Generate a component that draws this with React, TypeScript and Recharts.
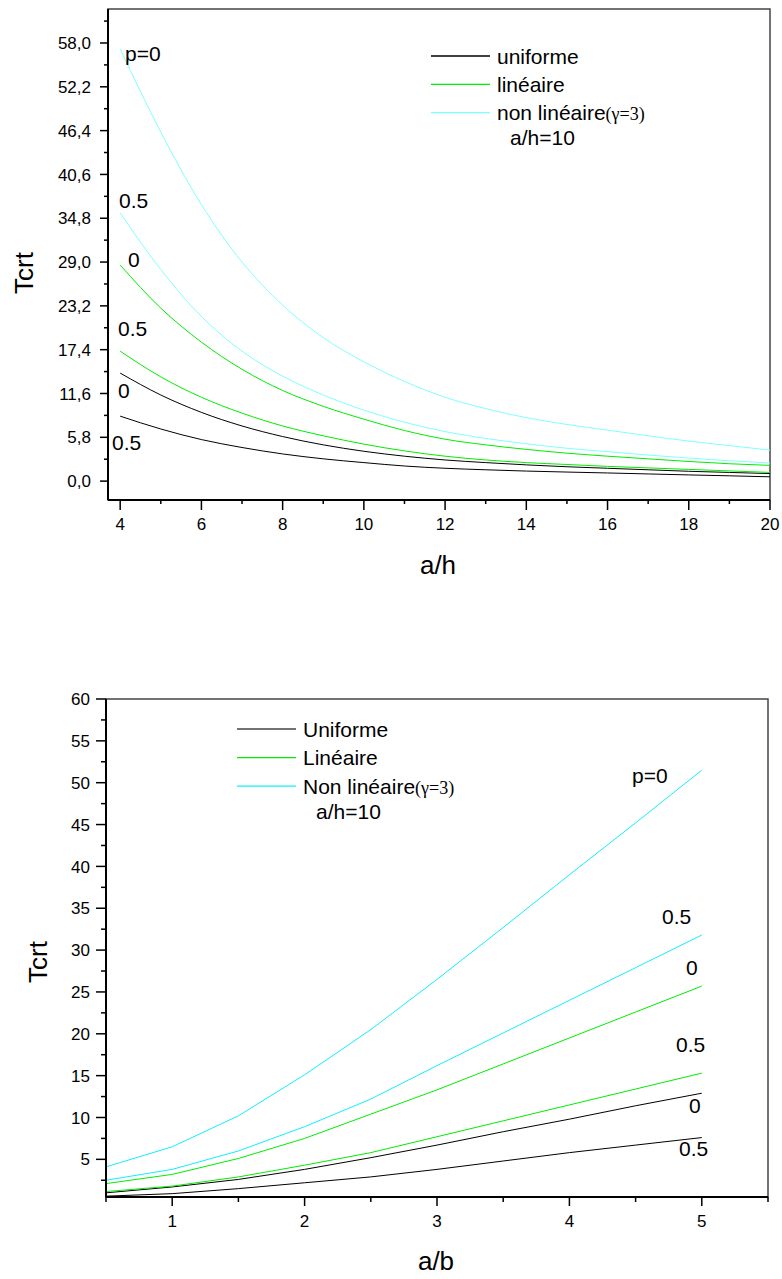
import React from 'react';
import { LineChart, Line, XAxis, YAxis, ReferenceArea } from 'recharts';

const SANS = "'Liberation Sans', Arial, sans-serif";
const SERIF = "'Liberation Serif', 'Times New Roman', serif";

// ---------- chart 1 : Tcrt vs a/h ----------
const AH = [4, 5, 6, 7, 8, 9, 10, 11, 12, 13, 14, 15, 16, 17, 18, 19, 20];
const AH_UNI_P0 = [14.3, 11.4, 9.1, 7.3, 5.9, 4.8, 3.95, 3.3, 2.8, 2.45, 2.15, 1.9, 1.7, 1.5, 1.3, 1.15, 1.0];
const AH_UNI_P05 = [8.6, 6.9, 5.5, 4.45, 3.6, 2.95, 2.45, 2.0, 1.7, 1.5, 1.33, 1.2, 1.08, 0.95, 0.82, 0.7, 0.57];
const AH_LIN_P0 = [28.6, 22.9, 18.4, 14.8, 12.0, 9.9, 8.2, 6.7, 5.55, 4.8, 4.2, 3.7, 3.3, 2.95, 2.6, 2.3, 2.08];
const AH_LIN_P05 = [17.2, 13.8, 11.1, 9.0, 7.3, 6.0, 4.9, 4.0, 3.3, 2.8, 2.45, 2.2, 1.95, 1.75, 1.55, 1.35, 1.15];
const AH_NL_P0 = [57.2, 46.2, 36.6, 29.0, 23.3, 19.0, 15.8, 13.2, 11.1, 9.6, 8.4, 7.5, 6.75, 6.0, 5.3, 4.7, 4.1];
const AH_NL_P05 = [35.5, 28.0, 21.8, 17.2, 13.9, 11.4, 9.4, 7.8, 6.55, 5.65, 4.95, 4.35, 3.9, 3.45, 3.05, 2.7, 2.4];

const AH_YTICKS = [0, 5.8, 11.6, 17.4, 23.2, 29.0, 34.8, 40.6, 46.4, 52.2, 58.0];
const AH_YMINOR = [2.9, 8.7, 14.5, 20.3, 26.1, 31.9, 37.7, 43.5, 49.3, 55.1, 60.9];
const AH_XTICKS = [4, 6, 8, 10, 12, 14, 16, 18, 20];
const AH_XMINOR = [5, 7, 9, 11, 13, 15, 17, 19];

// ---------- chart 2 : Tcrt vs a/b ----------
const AB = [0.5, 1, 1.5, 2, 2.5, 3, 3.5, 4, 4.5, 5];
const AB_UNI_P0 = [1.0, 1.7, 2.6, 3.8, 5.2, 6.7, 8.3, 9.8, 11.4, 12.9];
const AB_UNI_P05 = [0.6, 0.9, 1.5, 2.2, 2.9, 3.8, 4.8, 5.8, 6.7, 7.6];
const AB_LIN_P0 = [2.1, 3.2, 5.1, 7.5, 10.4, 13.3, 16.4, 19.5, 22.6, 25.7];
const AB_LIN_P05 = [1.15, 1.8, 2.9, 4.3, 5.8, 7.7, 9.6, 11.5, 13.4, 15.3];
const AB_NL_P0 = [4.1, 6.5, 10.2, 15.1, 20.5, 26.5, 32.7, 39.0, 45.2, 51.5];
const AB_NL_P05 = [2.5, 3.8, 6.0, 8.9, 12.2, 16.2, 20.1, 24.0, 27.9, 31.8];

const AB_YTICKS = [5, 10, 15, 20, 25, 30, 35, 40, 45, 50, 55, 60];
const AB_YMINOR = [2.5, 7.5, 12.5, 17.5, 22.5, 27.5, 32.5, 37.5, 42.5, 47.5, 52.5, 57.5];
const AB_XTICKS = [1, 2, 3, 4, 5];
const AB_XMINOR = [0.5, 1.5, 2.5, 3.5, 4.5, 5.5];

const ahData = AH.map((x, i) => ({
  x,
  uni0: AH_UNI_P0[i],
  uni05: AH_UNI_P05[i],
  lin0: AH_LIN_P0[i],
  lin05: AH_LIN_P05[i],
  nl0: AH_NL_P0[i],
  nl05: AH_NL_P05[i],
}));

const abData = AB.map((x, i) => ({
  x,
  uni0: AB_UNI_P0[i],
  uni05: AB_UNI_P05[i],
  lin0: AB_LIN_P0[i],
  lin05: AB_LIN_P05[i],
  nl0: AB_NL_P0[i],
  nl05: AB_NL_P05[i],
}));

const isIn = (list: number[], v: number) => list.some((m) => Math.abs(m - v) < 1e-6);

function yTick(majors: number[], fmt: (v: number) => string, majorLen: number, minorLen: number, gap: number) {
  return (props: any) => {
    const { x, y, payload } = props;
    const major = isIn(majors, payload.value);
    const len = major ? majorLen : minorLen;
    return (
      <g>
        <line x1={x - len} x2={x} y1={y} y2={y} stroke="#000" strokeWidth={1.5} />
        {major && (
          <text x={x - majorLen - gap} y={y} dy="0.36em" textAnchor="end" fontSize={17} fontFamily={SANS} fill="#000">
            {fmt(payload.value)}
          </text>
        )}
      </g>
    );
  };
}

function xTick(majors: number[], majorLen: number, minorLen: number, gap: number) {
  return (props: any) => {
    const { x, y, payload } = props;
    const major = isIn(majors, payload.value);
    const len = major ? majorLen : minorLen;
    return (
      <g>
        <line x1={x} x2={x} y1={y} y2={y + len} stroke="#000" strokeWidth={1.5} />
        {major && (
          <text x={x} y={y + majorLen + gap} dy="0.72em" textAnchor="middle" fontSize={17} fontFamily={SANS} fill="#000">
            {payload.value}
          </text>
        )}
      </g>
    );
  };
}

const comma = (v: number) => v.toFixed(1).replace('.', ',');

type Legend = { name: string; color: string };

function LegendBlock({ x, y, items, step }: { x: number; y: number; items: Legend[]; step: number }) {
  return (
    <g>
      {items.map((it, i) => (
        <g key={it.name}>
          <line x1={x} x2={x + 59} y1={y + i * step} y2={y + i * step} stroke={it.color} strokeWidth={1.3} />
          <text x={x + 66} y={y + i * step} dy="0.36em" fontSize={21} fontFamily={SANS} fill="#000">
            {it.name}
            {i === 2 && (
              <tspan fontFamily={SERIF} fontSize={18}>(γ=3)</tspan>
            )}
          </text>
        </g>
      ))}
      <text x={x + 79} y={y + 3 * step - 3} dy="0.36em" fontSize={21} fontFamily={SANS} fill="#000">
        a/h=10
      </text>
    </g>
  );
}

const TOP_CYAN = '#80ffff';
const BOT_CYAN = '#10efff';
const GREEN = '#00ee00';

export default function App() {
  const lineProps = { dot: false, isAnimationActive: false, strokeWidth: 1 } as const;
  return (
    <div style={{ position: 'absolute', left: 0, top: 0, width: 782, height: 1279, background: '#fff' }}>
      {/* top chart */}
      <div style={{ position: 'absolute', left: 0, top: 0 }}>
        <LineChart width={782} height={600} data={ahData} margin={{ top: 9, right: 12, bottom: 0, left: 0 }}>
          <ReferenceArea x1={3.7} x2={20} y1={-2.5} y2={62.5} fill="none" stroke="#444" strokeWidth={1.5} ifOverflow="visible" />
          <XAxis
            dataKey="x"
            type="number"
            domain={[3.7, 20]}
            allowDataOverflow
            ticks={[...AH_XTICKS, ...AH_XMINOR].sort((a, b) => a - b)}
            interval={0}
            height={100}
            tickSize={0}
            tickMargin={0}
            tickLine={false}
            axisLine={{ stroke: '#000', strokeWidth: 2 }}
            tick={xTick(AH_XTICKS, 10, 4, 8)}
          />
          <YAxis
            type="number"
            domain={[-2.5, 62.5]}
            allowDataOverflow
            ticks={[...AH_YTICKS, ...AH_YMINOR].sort((a, b) => a - b)}
            interval={0}
            width={108}
            tickSize={0}
            tickMargin={0}
            tickLine={false}
            axisLine={{ stroke: '#000', strokeWidth: 2 }}
            tick={yTick(AH_YTICKS, comma, 8, 4, 9)}
          />
          <Line dataKey="uni0" type="monotone" stroke="#000" {...lineProps} />
          <Line dataKey="uni05" type="monotone" stroke="#000" {...lineProps} />
          <Line dataKey="lin0" type="monotone" stroke={GREEN} {...lineProps} />
          <Line dataKey="lin05" type="monotone" stroke={GREEN} {...lineProps} />
          <Line dataKey="nl0" type="monotone" stroke={TOP_CYAN} {...lineProps} />
          <Line dataKey="nl05" type="monotone" stroke={TOP_CYAN} {...lineProps} />
        </LineChart>
        <svg width={782} height={600} style={{ position: 'absolute', left: 0, top: 0, pointerEvents: 'none' }}>
          <g fontFamily={SANS} fontSize={21} fill="#000">
            <text x={125} y={61}>p=0</text>
            <text x={119} y={208}>0.5</text>
            <text x={128} y={267}>0</text>
            <text x={118} y={336}>0.5</text>
            <text x={118} y={398}>0</text>
            <text x={112} y={450}>0.5</text>
          </g>
          <LegendBlock
            x={431}
            y={56}
            step={28.3}
            items={[
              { name: 'uniforme', color: '#000' },
              { name: 'linéaire', color: GREEN },
              { name: 'non linéaire', color: TOP_CYAN },
            ]}
          />
          <text x={438} y={574} textAnchor="middle" fontSize={26} fontFamily={SANS}>a/h</text>
          <text transform="translate(33,273) rotate(-90)" textAnchor="middle" fontSize={26} fontFamily={SANS}>Tcrt</text>
        </svg>
      </div>

      {/* bottom chart */}
      <div style={{ position: 'absolute', left: 0, top: 640 }}>
        <LineChart width={782} height={639} data={abData} margin={{ top: 59, right: 14, bottom: 0, left: 0 }}>
          <ReferenceArea x1={0.5} x2={5.5} y1={0.5} y2={60} fill="none" stroke="#444" strokeWidth={1.5} ifOverflow="visible" />
          <XAxis
            dataKey="x"
            type="number"
            domain={[0.5, 5.5]}
            allowDataOverflow
            ticks={[...AB_XTICKS, ...AB_XMINOR].sort((a, b) => a - b)}
            interval={0}
            height={82}
            tickSize={0}
            tickMargin={0}
            tickLine={false}
            axisLine={{ stroke: '#000', strokeWidth: 2 }}
            tick={xTick(AB_XTICKS, 9, 5, 9)}
          />
          <YAxis
            type="number"
            domain={[0.5, 60]}
            allowDataOverflow
            ticks={[...AB_YTICKS, ...AB_YMINOR].sort((a, b) => a - b)}
            interval={0}
            width={106}
            tickSize={0}
            tickMargin={0}
            tickLine={false}
            axisLine={{ stroke: '#000', strokeWidth: 2 }}
            tick={yTick(AB_YTICKS, (v) => String(v), 10, 5, 6)}
          />
          <Line dataKey="uni0" type="linear" stroke="#000" {...lineProps} />
          <Line dataKey="uni05" type="linear" stroke="#000" {...lineProps} />
          <Line dataKey="lin0" type="linear" stroke={GREEN} {...lineProps} />
          <Line dataKey="lin05" type="linear" stroke={GREEN} {...lineProps} />
          <Line dataKey="nl0" type="linear" stroke={BOT_CYAN} {...lineProps} />
          <Line dataKey="nl05" type="linear" stroke={BOT_CYAN} {...lineProps} />
        </LineChart>
        <svg width={782} height={639} style={{ position: 'absolute', left: 0, top: 0, pointerEvents: 'none' }}>
          <g fontFamily={SANS} fontSize={21} fill="#000">
            <text x={632} y={143}>p=0</text>
            <text x={662} y={284}>0.5</text>
            <text x={686} y={335}>0</text>
            <text x={676} y={412}>0.5</text>
            <text x={689} y={473}>0</text>
            <text x={679} y={516}>0.5</text>
          </g>
          <LegendBlock
            x={237}
            y={89}
            step={28.6}
            items={[
              { name: 'Uniforme', color: '#444' },
              { name: 'Linéaire', color: GREEN },
              { name: 'Non linéaire', color: BOT_CYAN },
            ]}
          />
          <text x={436} y={630} textAnchor="middle" fontSize={26} fontFamily={SANS}>a/b</text>
          <text transform="translate(47,322) rotate(-90)" textAnchor="middle" fontSize={26} fontFamily={SANS}>Tcrt</text>
        </svg>
      </div>
    </div>
  );
}
